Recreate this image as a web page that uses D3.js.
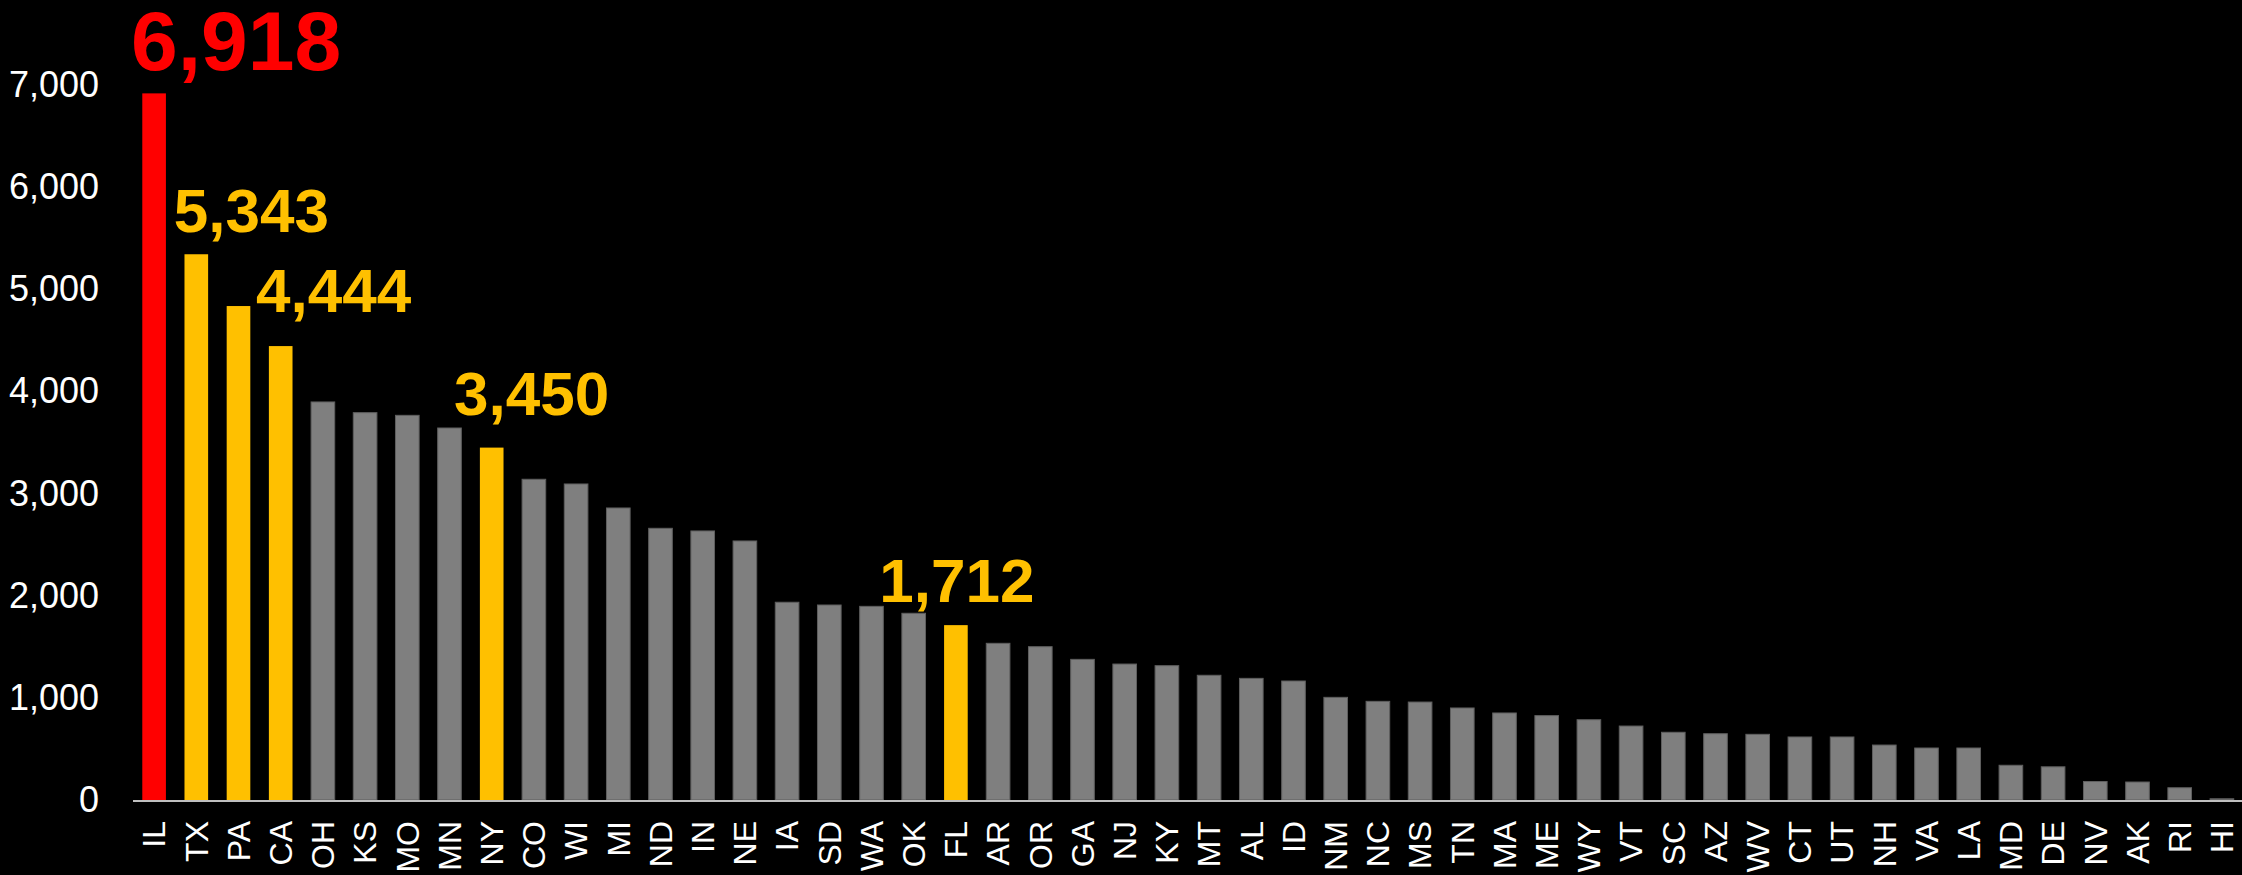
<!DOCTYPE html>
<html>
<head>
<meta charset="utf-8">
<script src="https://cdn.jsdelivr.net/npm/d3@7"></script>
<style>
  html, body { margin: 0; padding: 0; background: #000; }
  svg { display: block; }
</style>
</head>
<body>
<div id="vis"></div>
<script>
const states = ["IL", "TX", "PA", "CA", "OH", "KS", "MO", "MN", "NY", "CO",
  "WI", "MI", "ND", "IN", "NE", "IA", "SD", "WA", "OK", "FL",
  "AR", "OR", "GA", "NJ", "KY", "MT", "AL", "ID", "NM", "NC",
  "MS", "TN", "MA", "ME", "WY", "VT", "SC", "AZ", "WV", "CT",
  "UT", "NH", "VA", "LA", "MD", "DE", "NV", "AK", "RI", "HI"];

const values = [6918, 5343, 4836, 4444, 3897, 3792, 3766, 3642, 3450, 3140,
  3094, 2859, 2660, 2634, 2536, 1936, 1909, 1896, 1828, 1712,
  1534, 1501, 1377, 1331, 1315, 1221, 1191, 1165, 1005, 966,
  959, 901, 852, 826, 786, 724, 663, 649, 643, 617,
  617, 538, 509, 509, 340, 325, 181, 176, 120, 12];

const redStates = ["IL"];
const goldStates = ["TX", "PA", "CA", "NY", "FL"];
const labelledStates = ["IL", "TX", "CA", "NY", "FL"];

const yTicks = [0, 1000, 2000, 3000, 4000, 5000, 6000, 7000];

const width = 2242;
const height = 875;

const data = states.map((s, i) => ({ state: s, value: values[i] }));

// where each value label sits, relative to its bar
const labelPlace = {
  IL: { dx: 82, dy: 23, size: 84 },
  TX: { dx: 55, dy: 22, size: 62 },
  CA: { dx: 53, dy: 34, size: 62 },
  NY: { dx: 40, dy: 33, size: 62 },
  FL: { dx: 1, dy: 23, size: 62 }
};

const color = s => redStates.includes(s) ? "#FF0000"
  : goldStates.includes(s) ? "#FFC000" : "#7F7F7F";

const svg = d3
  .select("#vis")
  .append("svg")
  .attr("width", width)
  .attr("height", height)
  .style("background", "#000");

const x = d3
  .scaleBand()
  .domain(states)
  .range([133, 2243])
  .paddingInner(0.44)
  .paddingOuter(0.22);

const y = d3
  .scaleLinear()
  .domain([0, 7000])
  .range([800, 85]);

// y axis labels only, no line
const yAxis = svg
  .append("g")
  .attr("transform", "translate(99,0)")
  .call(d3.axisLeft(y).tickValues(yTicks).tickFormat(d3.format(",")).tickSize(0).tickPadding(0));
yAxis.select(".domain").remove();
yAxis
  .selectAll("text")
  .attr("fill", "#fff")
  .attr("font-family", "'Liberation Sans', Arial, sans-serif")
  .attr("font-size", 36);

svg
  .append("g")
  .selectAll("rect")
  .data(data)
  .join("rect")
  .attr("x", d => x(d.state))
  .attr("y", d => y(d.value))
  .attr("width", x.bandwidth())
  .attr("height", d => y(0) - y(d.value))
  .attr("fill", d => color(d.state))
  .attr("stroke", d => color(d.state) === "#7F7F7F" ? "#5f5f5f" : "none")
  .attr("stroke-width", 1);

// category axis
const xAxis = svg
  .append("g")
  .attr("transform", "translate(0," + y(0) + ")")
  .call(d3.axisBottom(x).tickSize(0).tickPadding(0));
xAxis.select(".domain").remove();
xAxis
  .selectAll("text")
  .attr("fill", "#fff")
  .attr("font-family", "'Liberation Sans', Arial, sans-serif")
  .attr("font-size", 32)
  .attr("text-anchor", "end")
  .attr("transform", "translate(0,21) rotate(-90)")
  .attr("x", 0)
  .attr("y", 0)
  .attr("dy", "0.35em");

svg
  .append("line")
  .attr("x1", 133)
  .attr("x2", width)
  .attr("y1", y(0) + 1)
  .attr("y2", y(0) + 1)
  .attr("stroke", "#BFBFBF")
  .attr("stroke-width", 2);

svg
  .append("g")
  .selectAll("text")
  .data(data.filter(d => labelledStates.includes(d.state)))
  .join("text")
  .attr("x", d => x(d.state) + x.bandwidth() / 2 + labelPlace[d.state].dx)
  .attr("y", d => y(d.value) - labelPlace[d.state].dy)
  .attr("text-anchor", "middle")
  .attr("font-family", "'Liberation Sans', Arial, sans-serif")
  .attr("font-weight", "bold")
  .attr("font-size", d => labelPlace[d.state].size)
  .attr("fill", d => color(d.state))
  .text(d => d3.format(",")(d.value));
</script>
</body>
</html>
